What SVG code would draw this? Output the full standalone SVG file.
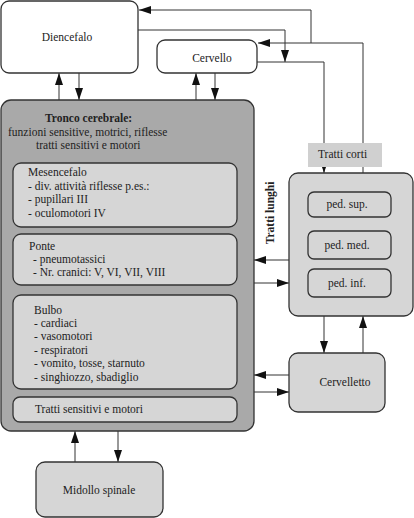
<svg xmlns="http://www.w3.org/2000/svg" width="414" height="518" viewBox="0 0 414 518">
<style>
text{font-family:"Liberation Serif","Times New Roman",serif;font-size:11.5px;fill:#222}
.b{font-weight:bold}
.box{stroke:#333;stroke-width:1.3}
.white{fill:#fff}
.lg{fill:#d6d6d6}
.dk{fill:#a9a9a9}
.c{fill:none;stroke:#333;stroke-width:1}
</style>
<defs>
<marker id="a" viewBox="0 0 12 8" refX="12" refY="4" markerWidth="12" markerHeight="8" markerUnits="userSpaceOnUse" orient="auto">
<path d="M0,0 L12,4 L0,8 z" fill="#111"/>
</marker>
</defs>
<g id="connectors">
<path class="c" d="M59,100 V73" marker-end="url(#a)"/>
<path class="c" d="M79,73 V100" marker-end="url(#a)"/>
<path class="c" d="M196,100 V73" marker-end="url(#a)"/>
<path class="c" d="M215,73 V100" marker-end="url(#a)"/>
<path class="c" d="M75,462 V431" marker-end="url(#a)"/>
<path class="c" d="M118,431 V462" marker-end="url(#a)"/>
<path class="c" d="M289,260 H254" marker-end="url(#a)"/>
<path class="c" d="M254,283 H289" marker-end="url(#a)"/>
<path class="c" d="M289,375 H254" marker-end="url(#a)"/>
<path class="c" d="M254,392 H289" marker-end="url(#a)"/>
<path class="c" d="M324,316 V353" marker-end="url(#a)"/>
<path class="c" d="M363,353 V316" marker-end="url(#a)"/>
<path class="c" d="M363,173 V167 M363,143 V43 H258" marker-end="url(#a)"/>
<path class="c" d="M311,43 V10 H139" marker-end="url(#a)"/>
<path class="c" d="M138,30 H285 V62" marker-end="url(#a)"/>
<path class="c" d="M257,62 H324 V143 M324,160 V173" marker-end="url(#a)"/>
</g>
<g id="tratti-corti">
<rect x="308" y="143" width="74" height="24" fill="#d0d0d0"/>
<text x="318" y="158">Tratti corti</text>
</g>
<g id="diencefalo">
<rect class="box white" x="1" y="1" width="137" height="72" rx="8"/>
<text x="67" y="41" text-anchor="middle">Diencefalo</text>
</g>
<g id="cervello">
<rect class="box white" x="157" y="40" width="100" height="33" rx="8"/>
<text x="212" y="62" text-anchor="middle">Cervello</text>
</g>
<g id="tronco">
<rect class="box dk" x="1" y="100" width="253" height="331" rx="10" stroke-width="1.6"/>
<text class="b" x="45" y="122" font-size="12.5">Tronco cerebrale:</text>
<text x="8" y="136">funzioni sensitive, motrici, riflesse</text>
<text x="36" y="149">tratti sensitivi e motori</text>
</g>
<g id="mesencefalo">
<rect class="box lg" x="13" y="163" width="224" height="64" rx="8"/>
<text x="28" y="176">Mesencefalo</text>
<text x="28" y="190">- div. attività riflesse p.es.:</text>
<text x="28" y="203">- pupillari III</text>
<text x="28" y="217">- oculomotori IV</text>
</g>
<g id="ponte">
<rect class="box lg" x="13" y="234" width="224" height="51" rx="8"/>
<text x="29" y="250">Ponte</text>
<text x="33" y="263">- pneumotassici</text>
<text x="33" y="276">- Nr. cranici: V, VI, VII, VIII</text>
</g>
<g id="bulbo">
<rect class="box lg" x="13" y="295" width="224" height="94" rx="8"/>
<text x="34" y="314">Bulbo</text>
<text x="34" y="327">- cardiaci</text>
<text x="34" y="340">- vasomotori</text>
<text x="34" y="354">- respiratori</text>
<text x="34" y="367">- vomito, tosse, starnuto</text>
<text x="34" y="381">- singhiozzo, sbadiglio</text>
</g>
<g id="tratti-sm">
<rect class="box lg" x="13" y="397" width="224" height="25" rx="7"/>
<text x="35" y="413">Tratti sensitivi e motori</text>
</g>
<g id="peduncoli">
<rect class="box lg" x="289" y="173" width="124" height="143" rx="9"/>
<text class="b" transform="translate(274,213) rotate(-90)" text-anchor="middle" font-size="11">Tratti lunghi</text>
</g>
<g id="ped-sup">
<rect class="box lg" x="308" y="192" width="83" height="25" rx="6"/>
<text x="347" y="208" text-anchor="middle">ped. sup.</text>
</g>
<g id="ped-med">
<rect class="box lg" x="308" y="231" width="83" height="28" rx="6"/>
<text x="347" y="249" text-anchor="middle">ped. med.</text>
</g>
<g id="ped-inf">
<rect class="box lg" x="308" y="269" width="83" height="28" rx="6"/>
<text x="347" y="287" text-anchor="middle">ped. inf.</text>
</g>
<g id="cervelletto">
<rect class="box lg" x="289" y="353" width="96" height="59" rx="9"/>
<text x="345" y="386" text-anchor="middle">Cervelletto</text>
</g>
<g id="midollo">
<rect class="box lg" x="36" y="462" width="127" height="55" rx="9"/>
<text x="99" y="494" text-anchor="middle">Midollo spinale</text>
</g>
</svg>
